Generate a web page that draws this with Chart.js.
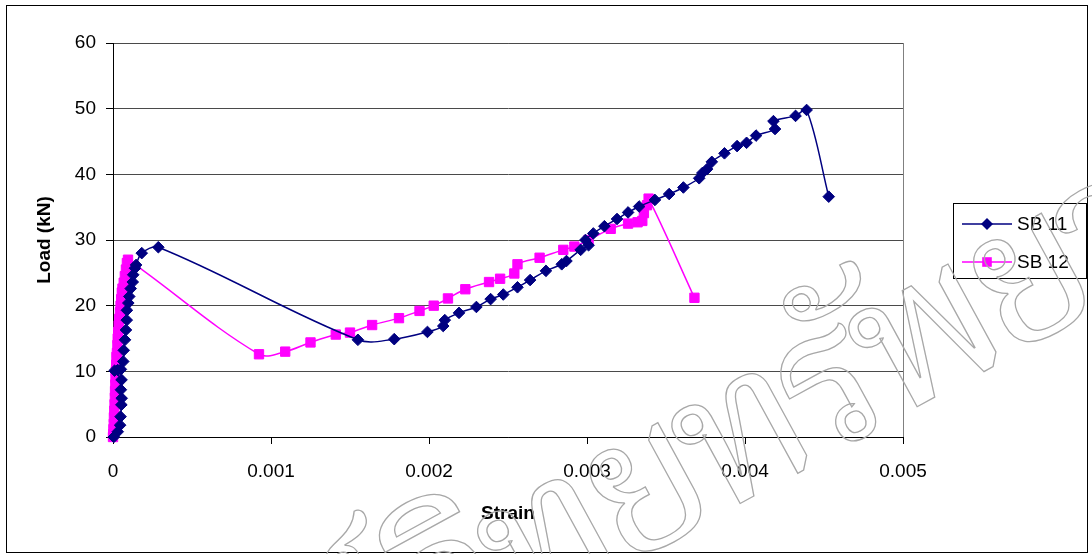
<!DOCTYPE html>
<html>
<head>
<meta charset="utf-8">
<title>Load vs Strain</title>
<script src="https://cdn.jsdelivr.net/npm/chart.js@4.4.1/dist/chart.umd.min.js"></script>
<style>
  html, body { margin: 0; padding: 0; background: #fff; }
  #wrap { width: 1092px; height: 554px; }
</style>
</head>
<body>
<div id="wrap"><canvas id="chart" width="1092" height="554"></canvas></div>
<script>
// Series names
const seriesNames = ['SB 11', 'SB 12'];

// SB 11: strain readings and applied load (kN), in loading order
const sb11Strain = [
  0.000005, 0.00003, 0.000045, 0.000048, 0.000053, 0.000055, 0.00005, 0.000054,
  0.00001, 0.00003, 0.00005, 0.000065, 0.000068, 0.000076, 0.000082, 0.000087,
  0.000088, 0.000097, 0.000103, 0.000112, 0.000125, 0.000128, 0.000139, 0.000146,
  0.000182, 0.000287,
  0.00155, 0.00178, 0.00199, 0.00209, 0.0021, 0.00219, 0.0023, 0.00239, 0.00247,
  0.00256, 0.00264, 0.00274, 0.00284, 0.00287, 0.00296, 0.00301, 0.00299, 0.00304,
  0.00311, 0.00319, 0.00326, 0.00333, 0.00343, 0.00352, 0.00361, 0.00371, 0.00373,
  0.00376, 0.00379, 0.00387, 0.00395, 0.00401, 0.00407, 0.00419, 0.00418, 0.00432,
  0.00439, 0.00453
];
const sb11Load = [
  0, 0.8, 1.8, 3.1, 4.9, 5.9, 7.2, 8.7,
  10.1, 10.2, 10.3, 11.5, 13.2, 14.8, 16.3, 17.8,
  19.3, 20.4, 21.4, 22.6, 23.6, 24.7, 25.7, 26.2,
  28.0, 28.9,
  14.8, 14.9, 16.0, 16.9, 17.8, 18.9, 19.8, 21.0, 21.7,
  22.8, 23.9, 25.3, 26.3, 26.8, 28.5, 29.2, 30.0, 31.0,
  32.1, 33.2, 34.2, 35.1, 36.1, 37.0, 38.0, 39.4, 40.2,
  40.8, 41.9, 43.2, 44.3, 44.8, 45.9, 46.9, 48.1, 48.9,
  49.8, 36.6
];

// SB 12: strain readings and applied load (kN), in loading order
const sb12Strain = [
  0, 0.000002, 0.000003, 0.000005, 0.000006, 0.000008, 0.00001, 0.000012,
  0.000013, 0.000015, 0.000016, 0.000018, 0.00002, 0.000022, 0.000025, 0.000028,
  0.00003, 0.000033, 0.000036, 0.00004, 0.000044, 0.000048, 0.000052, 0.000056,
  0.00006, 0.000068, 0.000075, 0.000082, 0.000088, 0.000095,
  0.000924, 0.00109, 0.00125, 0.00141, 0.0015, 0.00164, 0.00181, 0.00194, 0.00203,
  0.00212, 0.00223, 0.00238, 0.00245, 0.00254, 0.00256, 0.0027, 0.00285, 0.00292,
  0.00301, 0.00315, 0.00326, 0.00332, 0.00335, 0.00336, 0.00338, 0.00339, 0.00368
];
const sb12Load = [
  0, 0.5, 1.2, 2.0, 3.0, 4.0, 5.0, 6.0,
  7.0, 8.0, 9.0, 10.0, 11.0, 12.2, 12.8, 14.0,
  15.0, 16.0, 17.0, 18.0, 19.0, 20.0, 21.0, 22.0,
  22.6, 23.5, 24.5, 25.5, 26.5, 27.0,
  12.6, 13.0, 14.4, 15.6, 15.9, 17.05, 18.1, 19.2, 20.0,
  21.1, 22.5, 23.6, 24.1, 24.9, 26.3, 27.3, 28.5, 29.0,
  30.0, 31.7, 32.5, 32.7, 32.9, 34.1, 35.3, 36.3, 21.2
];

// Axis tick labels
const xTickLabels = ['0', '0.001', '0.002', '0.003', '0.004', '0.005'];
const yTickLabels = ['0', '10', '20', '30', '40', '50', '60'];

const FONT = '"Liberation Sans", Arial, Helvetica, sans-serif';
const pairs = (xs, ys) => xs.map((x, i) => ({ x, y: ys[i] }));

// Outer frame and plot-area outline
const framePlugin = {
  id: 'frame',
  beforeDraw(chart) {
    const { ctx, chartArea: a } = chart;
    ctx.save();
    ctx.fillStyle = '#fff';
    ctx.fillRect(0, 0, chart.width, chart.height);
    ctx.strokeStyle = '#808080';
    ctx.lineWidth = 1;
    ctx.strokeRect(Math.round(a.left) + 0.5, Math.round(a.top) + 0.5,
                   Math.round(a.right - a.left), Math.round(a.bottom - a.top));
    ctx.restore();
  },
  afterDraw(chart) {
    const ctx = chart.ctx;
    ctx.save();
    ctx.strokeStyle = '#000';
    ctx.lineWidth = 1;
    ctx.strokeRect(6.5, 5.5, 1081, 547);
    ctx.restore();
  }
};

// Boxed legend with a line-and-marker sample for each series
function markerPath(ctx, style, x, y) {
  ctx.beginPath();
  if (style === 'rectRot') {
    const r = 6;
    ctx.moveTo(x, y - r); ctx.lineTo(x + r, y); ctx.lineTo(x, y + r); ctx.lineTo(x - r, y);
    ctx.closePath();
  } else {
    const h = 4.8;
    ctx.rect(x - h, y - h, 2 * h, 2 * h);
  }
}
const legendPlugin = {
  id: 'boxLegend',
  afterDraw(chart) {
    const ctx = chart.ctx;
    ctx.save();
    ctx.strokeStyle = '#000';
    ctx.lineWidth = 1;
    ctx.strokeRect(953.5, 203.5, 133, 75);
    chart.data.datasets.forEach((ds, i) => {
      const y = 224 + i * 38;
      ctx.strokeStyle = ds.borderColor;
      ctx.lineWidth = 1.5;
      ctx.beginPath(); ctx.moveTo(962, y); ctx.lineTo(1012, y); ctx.stroke();
      ctx.fillStyle = ds.pointBackgroundColor;
      markerPath(ctx, ds.pointStyle, 987, y);
      ctx.fill();
      ctx.fillStyle = '#000';
      ctx.font = '19px ' + FONT;
      ctx.textAlign = 'left';
      ctx.textBaseline = 'middle';
      ctx.fillText(ds.label, 1017, y + 1);
    });
    ctx.restore();
  }
};

// Outlined watermark lettering, anchored at the start of "รั"
const watermarkPlugin = {
  id: 'watermark',
  afterDraw(chart) {
    const ctx = chart.ctx;
    const lead = 'ศูนย์วิทยท';
    const text = 'ศูนย์วิทยทรัพยากร';
    ctx.save();
    ctx.font = '200px Norasi, Kinnari, Garuda, "Noto Serif Thai", "Noto Sans Thai Looped", "Noto Sans Thai", "Noto Sans", sans-serif';
    ctx.letterSpacing = '-14px';
    ctx.strokeStyle = '#a8a8a8';
    ctx.lineWidth = 1.3;
    ctx.translate(816, 462);
    ctx.rotate(-0.5);
    ctx.textBaseline = 'alphabetic';
    ctx.strokeText(text, -ctx.measureText(lead).width, 0);
    ctx.restore();
  }
};

new Chart(document.getElementById('chart'), {
  type: 'scatter',
  data: {
    datasets: [
      {
        label: seriesNames[0],
        data: pairs(sb11Strain, sb11Load),
        showLine: true,
        borderColor: '#000080',
        backgroundColor: '#000080',
        pointBackgroundColor: '#000080',
        pointBorderColor: '#000080',
        borderWidth: 1.5,
        pointStyle: 'rectRot',
        pointRadius: 5.8,
        pointBorderWidth: 1,
        tension: 0.35,
        clip: false
      },
      {
        label: seriesNames[1],
        data: pairs(sb12Strain, sb12Load),
        showLine: true,
        borderColor: '#ff00ff',
        backgroundColor: '#ff00ff',
        pointBackgroundColor: '#ff00ff',
        pointBorderColor: '#ff00ff',
        borderWidth: 1.5,
        pointStyle: 'rect',
        pointRadius: 6.6,
        pointBorderWidth: 1,
        tension: 0.35,
        clip: false
      }
    ]
  },
  options: {
    responsive: false,
    animation: false,
    devicePixelRatio: 1,
    layout: { padding: { left: 8, top: 43, right: 189, bottom: 0 } },
    plugins: {
      legend: { display: false },
      tooltip: { enabled: false }
    },
    scales: {
      x: {
        type: 'linear',
        min: 0,
        max: 0.005,
        afterFit(scale) { scale.height = 117; },
        ticks: {
          stepSize: 0.001,
          padding: 16,
          color: '#000',
          font: { family: FONT, size: 19 },
          maxRotation: 0,
          callback: (v, i) => xTickLabels[i]
        },
        grid: { drawOnChartArea: false, drawTicks: true, tickLength: 7, tickColor: '#000' },
        border: { display: true, color: '#000', width: 1 },
        title: {
          display: true,
          text: 'Strain',
          color: '#000',
          font: { family: FONT, size: 19, weight: 'bold' },
          padding: { top: 0, bottom: 29 }
        }
      },
      y: {
        type: 'linear',
        min: 0,
        max: 60,
        afterFit(scale) { scale.width = 105; },
        ticks: {
          stepSize: 10,
          padding: 10,
          color: '#000',
          font: { family: FONT, size: 19 },
          callback: (v, i) => yTickLabels[i]
        },
        grid: { color: '#4a4a4a', lineWidth: 1, drawTicks: true, tickLength: 7, tickColor: '#000' },
        border: { display: true, color: '#000', width: 1 },
        title: {
          display: true,
          text: 'Load (kN)',
          color: '#000',
          font: { family: FONT, size: 19, weight: 'bold' },
          padding: { top: 25, bottom: 0 }
        }
      }
    }
  },
  plugins: [framePlugin, legendPlugin, watermarkPlugin]
});
</script>
</body>
</html>
